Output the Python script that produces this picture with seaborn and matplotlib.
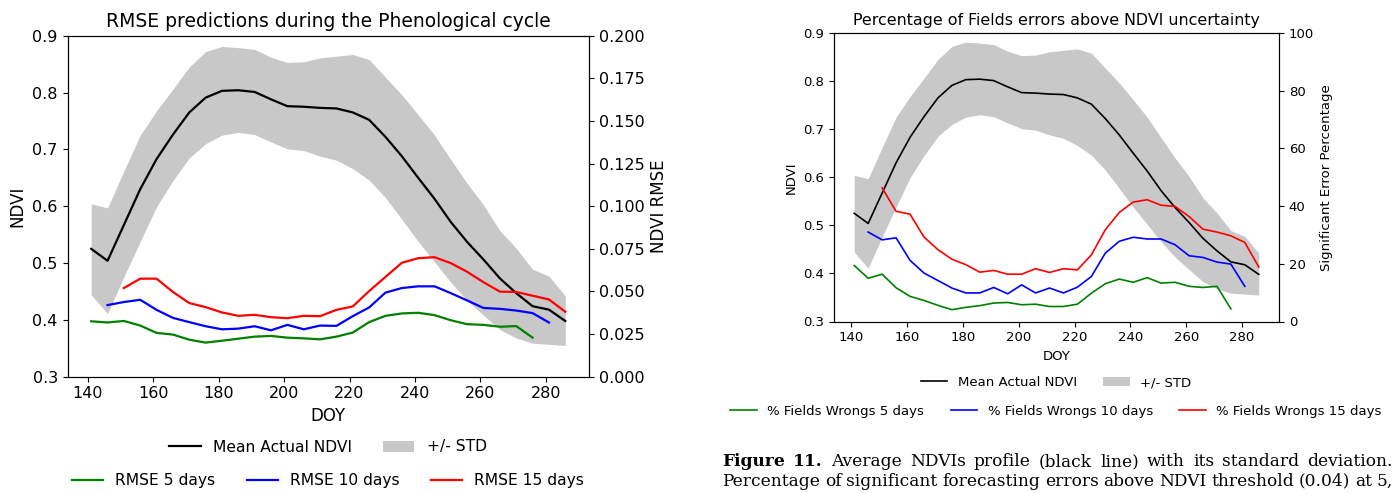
import numpy as np
import pandas as pd
import matplotlib
matplotlib.use("Agg")
import matplotlib.pyplot as plt
import seaborn as sns

# ---------------- data ----------------
doy = [141, 146, 151, 156, 161, 166, 171, 176, 181, 186, 191, 196, 201, 206, 211,
       216, 221, 226, 231, 236, 241, 246, 251, 256, 261, 266, 271, 276, 281, 286]
ndvi_mean = [0.525, 0.504, 0.567, 0.630, 0.683, 0.726, 0.765, 0.791, 0.803, 0.804,
             0.801, 0.788, 0.776, 0.775, 0.773, 0.772, 0.765, 0.752, 0.722, 0.688,
             0.650, 0.613, 0.572, 0.537, 0.506, 0.473, 0.447, 0.424, 0.418, 0.398]
ndvi_upper = [0.604, 0.597, 0.662, 0.725, 0.768, 0.806, 0.845, 0.872, 0.881, 0.879,
              0.876, 0.862, 0.853, 0.854, 0.861, 0.864, 0.867, 0.858, 0.827, 0.796,
              0.761, 0.725, 0.682, 0.640, 0.602, 0.557, 0.526, 0.489, 0.477, 0.442]
ndvi_lower = [0.444, 0.411, 0.476, 0.538, 0.599, 0.645, 0.685, 0.710, 0.725, 0.730,
              0.726, 0.713, 0.701, 0.698, 0.688, 0.681, 0.666, 0.646, 0.615, 0.577,
              0.538, 0.502, 0.466, 0.434, 0.408, 0.383, 0.368, 0.359, 0.357, 0.355]

doy_5 = doy[:28]    # 141 .. 276
doy_10 = doy[1:29]  # 146 .. 281
doy_15 = doy[2:]    # 151 .. 286

rmse_5 = [0.0325, 0.0318, 0.0327, 0.0300, 0.0257, 0.0247, 0.0217, 0.0200, 0.0211, 0.0223,
          0.0235, 0.0239, 0.0229, 0.0225, 0.0219, 0.0235, 0.0259, 0.0320, 0.0357, 0.0371,
          0.0375, 0.0361, 0.0331, 0.0308, 0.0304, 0.0293, 0.0297, 0.0229]
rmse_10 = [0.0420, 0.0438, 0.0451, 0.0392, 0.0345, 0.0320, 0.0296, 0.0278, 0.0282, 0.0296,
           0.0272, 0.0304, 0.0278, 0.0300, 0.0298, 0.0355, 0.0406, 0.0493, 0.0520, 0.0530,
           0.0530, 0.0490, 0.0447, 0.0403, 0.0398, 0.0388, 0.0373, 0.0318]
rmse_15 = [0.0520, 0.0575, 0.0575, 0.0497, 0.0432, 0.0408, 0.0377, 0.0357, 0.0363, 0.0349,
           0.0343, 0.0357, 0.0355, 0.0392, 0.0412, 0.0502, 0.0585, 0.0668, 0.0695, 0.0701,
           0.0666, 0.0615, 0.0554, 0.0499, 0.0497, 0.0475, 0.0453, 0.0381]

pct_5 = [19.4, 15.0, 16.4, 11.7, 8.7, 7.3, 5.6, 4.1, 4.9, 5.5, 6.4, 6.6, 5.8, 6.0,
         5.2, 5.2, 6.0, 9.8, 13.1, 14.7, 13.6, 15.2, 13.3, 13.6, 12.2, 11.8, 12.2, 4.4]
pct_10 = [31.0, 28.3, 29.0, 21.2, 16.8, 14.2, 11.6, 9.9, 9.9, 11.8, 9.6, 12.7, 9.9, 11.6,
          9.9, 11.9, 15.6, 23.7, 27.8, 29.2, 28.6, 28.6, 26.6, 22.8, 22.2, 20.6, 19.9, 12.2]
pct_15 = [46.3, 38.2, 37.2, 29.3, 24.9, 21.6, 19.7, 17.1, 17.7, 16.4, 16.4, 18.3, 17.0, 18.3,
          17.9, 23.1, 31.8, 37.8, 41.4, 42.2, 40.3, 39.9, 36.4, 32.0, 31.0, 29.7, 27.4, 18.9]

title_left = "RMSE predictions during the Phenological cycle"
title_right = "Percentage of Fields errors above NDVI uncertainty"
caption_1 = "Figure 11. Average NDVIs profile (black line) with its standard deviation."
caption_2 = "Percentage of significant forecasting errors above NDVI threshold (0.04) at 5,"

# ---------------- figure ----------------
W, H = 1396, 493
fig = plt.figure(figsize=(W / 100, H / 100), dpi=100)


def px_axes(x0, y0, x1, y1):
    return fig.add_axes([x0 / W, 1 - y1 / H, (x1 - x0) / W, (y1 - y0) / H])


GRAY = "#c8c8c8"
C5, C10, C15 = "#008000", "#0000ff", "#ff0000"

ndvi_df = pd.DataFrame({"DOY": doy, "mean": ndvi_mean, "lo": ndvi_lower, "hi": ndvi_upper})


def draw_panel(ax, fs_tick, fs_lab, lw, series, right_label, right_lim, right_ticks,
               right_fmt, title, fs_title):
    ax.fill_between(ndvi_df["DOY"], ndvi_df["lo"], ndvi_df["hi"], color=GRAY, lw=0,
                    label="+/- STD")
    sns.lineplot(data=ndvi_df, x="DOY", y="mean", color="black", lw=lw, ax=ax,
                 label="Mean Actual NDVI", legend=False)
    ax.set_ylim(0.3, 0.9)
    ax.set_yticks([0.3, 0.4, 0.5, 0.6, 0.7, 0.8, 0.9])
    ax.set_xticks([140, 160, 180, 200, 220, 240, 260, 280])
    ax.tick_params(labelsize=fs_tick)
    ax.set_xlabel("DOY", fontsize=fs_lab)
    ax.set_ylabel("NDVI", fontsize=fs_lab)
    ax.set_title(title, fontsize=fs_title, pad=6)
    ax2 = ax.twinx()
    for (xs, ys, c, lab) in series:
        sns.lineplot(x=xs, y=ys, color=c, lw=lw, ax=ax2, label=lab, legend=False)
    ax2.set_ylim(*right_lim)
    ax2.set_yticks(right_ticks)
    ax2.set_yticklabels([right_fmt.format(t) for t in right_ticks])
    ax2.tick_params(labelsize=fs_tick)
    ax2.set_ylabel(right_label, fontsize=fs_lab)
    h1, l1 = ax.get_legend_handles_labels()
    h2, l2 = ax2.get_legend_handles_labels()
    return ax2, h1, l1, h2, l2


# ---- left panel ----
axL = px_axes(67.5, 35.7, 589, 376.7)
axL2, h1, l1, h2, l2 = draw_panel(
    axL, 11.5, 12, 1.6,
    [(doy_5, rmse_5, C5, "RMSE 5 days"), (doy_10, rmse_10, C10, "RMSE 10 days"),
     (doy_15, rmse_15, C15, "RMSE 15 days")],
    "NDVI RMSE", (0.0, 0.2), [0.0, 0.025, 0.05, 0.075, 0.1, 0.125, 0.15, 0.175, 0.2],
    "{:.3f}", title_left, 13.5)
d1 = dict(zip(l1, h1))
fig.legend([d1["Mean Actual NDVI"], d1["+/- STD"]], ["Mean Actual NDVI", "+/- STD"],
           loc="center", bbox_to_anchor=(328 / W, 1 - 447 / H), ncol=2, frameon=False,
           fontsize=11.2, columnspacing=2.0)
fig.legend(h2, l2, loc="center", bbox_to_anchor=(328 / W, 1 - 481 / H), ncol=3,
           frameon=False, fontsize=11.2, columnspacing=2.0)

# ---- right panel ----
axR = px_axes(834, 33, 1279, 321.5)
axR2, g1, m1, g2, m2 = draw_panel(
    axR, 9.5, 9.5, 1.2,
    [(doy_5, pct_5, C5, "% Fields Wrongs 5 days"), (doy_10, pct_10, C10, "% Fields Wrongs 10 days"),
     (doy_15, pct_15, C15, "% Fields Wrongs 15 days")],
    "Significant Error Percentage", (0, 100), [0, 20, 40, 60, 80, 100], "{:d}",
    title_right, 11.4)
e1 = dict(zip(m1, g1))
fig.legend([e1["Mean Actual NDVI"], e1["+/- STD"]], ["Mean Actual NDVI", "+/- STD"],
           loc="center", bbox_to_anchor=(1056 / W, 1 - 382.5 / H), ncol=2, frameon=False,
           fontsize=9.5, columnspacing=2.0)
fig.legend(g2, m2, loc="center", bbox_to_anchor=(1056 / W, 1 - 411.5 / H), ncol=3,
           frameon=False, fontsize=9.5, columnspacing=2.0)

# ---- caption (justified) ----
renderer = fig.canvas.get_renderer()
CAP_FONT = ["DejaVu Serif"]


def justified(text, x0, x1, y_base, size, n_bold):
    words = text.split(" ")
    ts = []
    for i, w in enumerate(words):
        ts.append(fig.text(0, 1 - y_base / H, w, fontsize=size, family=CAP_FONT,
                           fontweight="bold" if i < n_bold else "normal",
                           ha="left", va="baseline"))
    widths = [t.get_window_extent(renderer).width for t in ts]
    gap = (x1 - x0 - sum(widths)) / (len(words) - 1)
    x = x0
    for t, wd in zip(ts, widths):
        t.set_x(x / W)
        x += wd + gap


justified(caption_1, 722, 1393, 466, 12.25, 2)
justified(caption_2, 722, 1393, 485.5, 12.25, 0)

fig.savefig("out.png", dpi=100)
